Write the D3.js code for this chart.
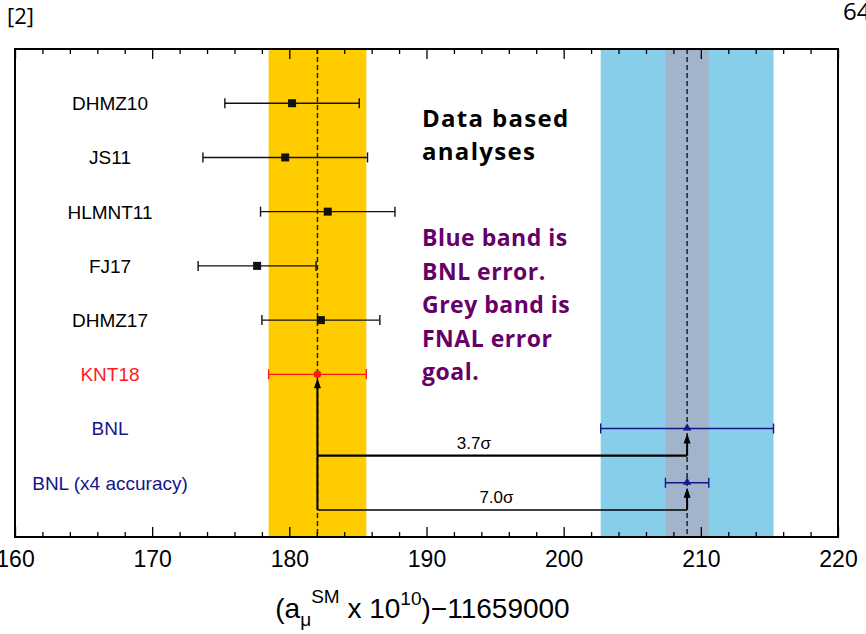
<!DOCTYPE html>
<html>
<head>
<meta charset="utf-8">
<script src="https://cdn.jsdelivr.net/npm/d3@7"></script>
<style>
  body { margin: 0; background: #fff; }
  svg { display: block; }
</style>
</head>
<body>
<svg id="chart" width="866" height="634"></svg>
<script>
// Determinations of the muon anomalous magnetic moment, (a_mu x 1e10) - 11659000
const labels  = ["DHMZ10", "JS11", "HLMNT11", "FJ17", "DHMZ17", "KNT18", "BNL", "BNL (x4 accuracy)"];
const centers = [180.2, 179.7, 182.8, 177.65, 182.3, 182.05, 209.0, 209.0];
const errors  = [4.9, 6.0, 4.9, 4.3, 4.3, 3.56, 6.3, 1.58];
const markers = ["square", "square", "square", "square", "square", "circle", "triangle", "triangle"];
const colors  = ["#111", "#111", "#111", "#111", "#111", "#ff1a1a", "#14148c", "#14148c"];
const labelColors = ["#000", "#000", "#000", "#000", "#000", "#ff1a1a", "#14148c", "#14148c"];

// reference prediction and experiment used for the bands
const refRow = "KNT18";
const expRow = "BNL";
const goalFactor = 4;          // FNAL goal: BNL error / 4

// tension arrows
const tensionRows   = ["BNL", "BNL (x4 accuracy)"];
const tensionLabels = ["3.7σ", "7.0σ"];
const tensionLabelAt = [193.45, 195.1];
const tensionWidths = [2.4, 1.5];

const majorTicks = d3.range(160, 221, 10);
const minorTicks = d3.range(160, 221, 2).filter(v => v % 10 !== 0);

const svg = d3.select("#chart");
const frame = { left: 15, right: 838, top: 49, bottom: 537 };

const x = d3.scaleLinear().domain([160, 220]).range([frame.left, frame.right]);
const y = d3.scalePoint().domain(labels).range([frame.top, frame.bottom]).padding(1);

const rows = labels.map((l, i) => ({
  label: l, c: centers[i], e: errors[i], m: markers[i], col: colors[i], lcol: labelColors[i]
}));
const ref = rows.find(r => r.label === refRow);
const exp = rows.find(r => r.label === expRow);

// bands
svg.append("rect")
  .attr("x", x(ref.c - ref.e)).attr("y", frame.top)
  .attr("width", x(ref.c + ref.e) - x(ref.c - ref.e)).attr("height", frame.bottom - frame.top)
  .attr("fill", "#ffcc00");
svg.append("rect")
  .attr("x", x(exp.c - exp.e)).attr("y", frame.top)
  .attr("width", x(exp.c + exp.e) - x(exp.c - exp.e)).attr("height", frame.bottom - frame.top)
  .attr("fill", "#87ceeb");
svg.append("rect")
  .attr("x", x(exp.c - exp.e / goalFactor)).attr("y", frame.top)
  .attr("width", x(exp.c + exp.e / goalFactor) - x(exp.c - exp.e / goalFactor))
  .attr("height", frame.bottom - frame.top)
  .attr("fill", "#a2b4cb");

// dashed central values
[ref.c, exp.c].forEach(v => {
  svg.append("line")
    .attr("x1", x(v)).attr("x2", x(v))
    .attr("y1", frame.top).attr("y2", frame.bottom)
    .attr("stroke", "#222").attr("stroke-width", 1.5)
    .attr("stroke-dasharray", "5,3");
});

// tension connectors
function arrowHead(cx, tipY) {
  svg.append("path")
    .attr("d", `M${cx},${tipY} L${cx - 3.5},${tipY + 10} L${cx + 3.5},${tipY + 10} Z`)
    .attr("fill", "#000");
}
let lowestY = 0;
tensionRows.forEach((r, i) => {
  const yc = y(r) + y.step() / 2;
  lowestY = Math.max(lowestY, yc);
  svg.append("line")
    .attr("x1", x(ref.c)).attr("x2", x(exp.c))
    .attr("y1", yc).attr("y2", yc)
    .attr("stroke", "#000").attr("stroke-width", tensionWidths[i]);
  svg.append("line")
    .attr("x1", x(exp.c)).attr("x2", x(exp.c))
    .attr("y1", yc).attr("y2", y(r) + 8)
    .attr("stroke", "#000").attr("stroke-width", 2);
  arrowHead(x(exp.c), y(r) + 5);
  svg.append("text")
    .attr("x", x(tensionLabelAt[i])).attr("y", yc - 7)
    .attr("text-anchor", "middle")
    .attr("font-family", "'Liberation Sans', Arial, sans-serif")
    .attr("font-size", 17)
    .text(tensionLabels[i]);
});
svg.append("line")
  .attr("x1", x(ref.c)).attr("x2", x(ref.c))
  .attr("y1", lowestY).attr("y2", y(refRow) + 8)
  .attr("stroke", "#000").attr("stroke-width", 2);
arrowHead(x(ref.c), y(refRow) + 4);

// error bars
const bars = svg.append("g");
rows.forEach(r => {
  const yy = y(r.label);
  const g = bars.append("g").attr("stroke", r.col).attr("stroke-width", 1.4);
  g.append("line").attr("x1", x(r.c - r.e)).attr("x2", x(r.c + r.e)).attr("y1", yy).attr("y2", yy);
  [r.c - r.e, r.c + r.e].forEach(v => {
    g.append("line").attr("x1", x(v)).attr("x2", x(v)).attr("y1", yy - 5).attr("y2", yy + 5);
  });
  if (r.m === "square") {
    bars.append("rect").attr("x", x(r.c) - 4).attr("y", yy - 4)
      .attr("width", 8).attr("height", 8).attr("fill", r.col);
  } else if (r.m === "circle") {
    bars.append("circle").attr("cx", x(r.c)).attr("cy", yy).attr("r", 3.8).attr("fill", r.col);
  } else {
    bars.append("path")
      .attr("d", d3.symbol().type(d3.symbolTriangle).size(30)())
      .attr("transform", `translate(${x(r.c)},${yy - 0.5})`)
      .attr("fill", r.col);
  }
});

// row labels
svg.append("g").selectAll("text").data(rows).join("text")
  .attr("x", 110).attr("y", d => y(d.label))
  .attr("dy", "0.36em")
  .attr("text-anchor", "middle")
  .attr("font-family", "'Liberation Sans', Arial, sans-serif")
  .attr("font-size", 19)
  .attr("fill", d => d.lcol)
  .text(d => d.label);

// axes
const axisFont = "'Liberation Sans', Arial, sans-serif";
function styleAxis(g) {
  g.select(".domain").remove();
  g.selectAll(".tick line").attr("stroke", "#000").attr("stroke-width", 1.3);
  g.selectAll(".tick text").attr("font-family", axisFont).attr("font-size", 23).attr("fill", "#000");
}
svg.append("g").attr("transform", `translate(0,${frame.bottom})`)
  .call(d3.axisBottom(x).tickValues(majorTicks).tickSize(-10).tickPadding(14).tickFormat(d3.format("d")))
  .call(styleAxis);
svg.append("g").attr("transform", `translate(0,${frame.bottom})`)
  .call(d3.axisBottom(x).tickValues(minorTicks).tickSize(-5).tickFormat(""))
  .call(styleAxis);
svg.append("g").attr("transform", `translate(0,${frame.top})`)
  .call(d3.axisTop(x).tickValues(majorTicks).tickSize(-10).tickFormat(""))
  .call(styleAxis);
svg.append("g").attr("transform", `translate(0,${frame.top})`)
  .call(d3.axisTop(x).tickValues(minorTicks).tickSize(-5).tickFormat(""))
  .call(styleAxis);

// frame
svg.append("rect")
  .attr("x", frame.left).attr("y", frame.top)
  .attr("width", frame.right - frame.left).attr("height", frame.bottom - frame.top)
  .attr("fill", "none").attr("stroke", "#000").attr("stroke-width", 2);

// axis title
const title = svg.append("text")
  .attr("x", (frame.left + frame.right) / 2 - 4).attr("y", 618)
  .attr("text-anchor", "middle")
  .attr("font-family", axisFont).attr("font-size", 28);
title.append("tspan").text("(a");
title.append("tspan").attr("font-size", 19).attr("dy", 8).text("μ");
title.append("tspan").attr("font-size", 19).attr("dy", -23).text("SM");
title.append("tspan").attr("dy", 15).text(" x 10");
title.append("tspan").attr("font-size", 19).attr("dy", -13).text("10");
title.append("tspan").attr("dy", 13).text(")−11659000");

// annotations
const noteFont = "'Open Sans', Lato, sans-serif";
const headLines = ["Data based", "analyses"];
svg.append("g").selectAll("text").data(headLines).join("text")
  .attr("x", 422).attr("y", (d, i) => 127 + i * 33)
  .attr("font-family", noteFont).attr("font-weight", 700).attr("font-size", 24)
  .attr("letter-spacing", 1.3)
  .attr("fill", "#000").text(d => d);

const noteLines = ["Blue band is", "BNL error.", "Grey band is", "FNAL error", "goal."];
svg.append("g").selectAll("text").data(noteLines).join("text")
  .attr("x", 422).attr("y", (d, i) => 246 + i * 33.5)
  .attr("font-family", noteFont).attr("font-weight", 700).attr("font-size", 23)
  .attr("letter-spacing", 0.5)
  .attr("fill", "#660066").text(d => d);

// page markers
svg.append("text").attr("x", 7).attr("y", 24)
  .attr("font-family", noteFont).attr("font-size", 22).attr("fill", "#000").text("[2]");
svg.append("text").attr("x", 843).attr("y", 20)
  .attr("font-family", noteFont).attr("font-size", 24).attr("fill", "#000").text("64");
</script>
</body>
</html>
